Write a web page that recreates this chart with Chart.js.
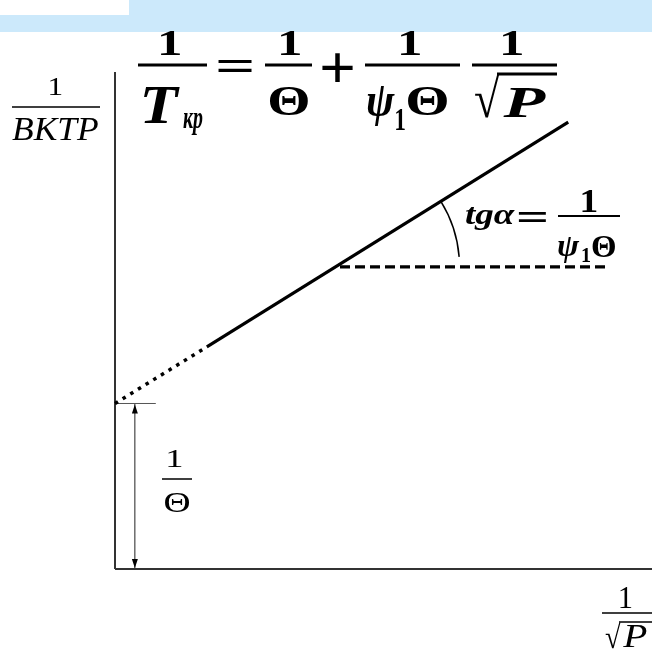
<!DOCTYPE html>
<html>
<head>
<meta charset="utf-8">
<script src="https://cdn.jsdelivr.net/npm/chart.js@4"></script>
<style>
  html,body{margin:0;padding:0;background:#fff;}
  #wrap{width:652px;height:649px;}
</style>
</head>
<body>
<div id="wrap"><canvas id="c" width="652" height="649"></canvas></div>
<script>
// axis ranges (abstract units: x = 1/sqrt(P), y = 1/T)
var xRange = [0, 10];
var yRange = [0, 10];

// the straight line 1/T = 1/Θ + (1/ψ1Θ)·(1/√P)
var lineDotted = [[0, 3.33], [1.71, 4.47]];      // extrapolated part
var lineSolid  = [[1.71, 4.47], [8.44, 8.99]];   // measured part
var dashLevel  = [[4.19, 6.08], [9.18, 6.08]];   // horizontal for angle α

// axes and the 1/Θ marker
var axisX = [[0, 0], [10, 0]];
var axisY = [[0, 0], [0, 10]];
var interceptTick  = [[0, 3.33], [0.76, 3.33]];
var interceptArrow = [[0.37, 0], [0.37, 3.33]];

var SERIF = "'Liberation Serif','Times New Roman',serif";

function pts(a){ return a.map(function(p){ return {x:p[0], y:p[1]}; }); }

// put a text so its ink box lands on (x0,y0)-(x1,y1)
function fit(ctx, s, font, x0, y0, x1, y1){
  ctx.font = font + ' ' + SERIF;
  ctx.textAlign = 'left'; ctx.textBaseline = 'alphabetic';
  var m = ctx.measureText(s);
  var w = m.actualBoundingBoxLeft + m.actualBoundingBoxRight;
  var h = m.actualBoundingBoxAscent + m.actualBoundingBoxDescent;
  var sx = (x1 - x0) / w, sy = (y1 - y0) / h;
  ctx.save();
  ctx.translate(x0 + m.actualBoundingBoxLeft * sx, y0 + m.actualBoundingBoxAscent * sy);
  ctx.scale(sx, sy);
  ctx.fillText(s, 0, 0);
  ctx.restore();
}

var texts = [
  // main formula
  ['1', 'bold 34px', 160, 32, 181, 55],
  ['T', 'italic bold 54px', 143, 87, 180, 123],
  ['кр', 'italic bold 28px', 183, 113, 203, 135],
  ['=', 'bold 48px', 218, 60, 252, 72],
  ['1', 'bold 34px', 280, 32, 301, 55],
  ['Θ', 'bold 41px', 270, 88, 308, 115],
  ['+', 'bold 44px', 322, 53, 353, 82],
  ['1', 'bold 34px', 400, 32, 421, 55],
  ['ψ', 'italic bold 41px', 367, 88, 395, 127],
  ['1', 'bold 26px', 396, 110, 405, 130],
  ['Θ', 'bold 41px', 408, 88, 447, 115],
  ['1', 'bold 34px', 502, 32, 523, 55],
  ['√', 'bold 44px', 475, 74, 500, 118],
  ['P', 'italic bold 44px', 502, 88, 547, 117],
  // y axis title
  ['1', '26px', 50, 78, 62, 95],
  ['ВКТР', 'italic 32px', 12, 118, 98, 140],
  // intercept label
  ['1', '26px', 168, 450, 182, 467],
  ['Θ', '27px', 165, 493, 190, 512],
  // slope label
  ['tgα', 'italic bold 28px', 465, 207, 515, 230],
  ['=', 'bold 30px', 518, 212, 547, 222],
  ['1', 'bold 30px', 582, 190, 597, 212],
  ['ψ', 'italic bold 30px', 558, 237, 580, 262],
  ['1', 'bold 20px', 582, 247, 590, 262],
  ['Θ', 'bold 30px', 592, 237, 615, 257],
  // x axis title
  ['1', '28px', 620, 588, 632, 608],
  ['√', '30px', 605, 622, 621, 649],
  ['P', 'italic 30px', 622, 626, 647, 647]
];

// fraction bars and radical overbars: [x0, x1, y, thickness]
var bars = [
  [138, 207, 65, 3], [265, 312, 65, 3], [365, 460, 65, 3], [472, 557, 65, 3],
  [497, 557, 74, 3],
  [12, 100, 107, 1.5],
  [162, 192, 479, 1.5],
  [558, 620, 216, 2],
  [602, 652, 613, 1.5], [619, 652, 622, 1.5]
];

var decor = {
  id: 'decor',
  beforeDraw: function(chart){
    var ctx = chart.ctx;
    ctx.save();
    ctx.fillStyle = 'rgb(204,233,251)';
    ctx.fillRect(0, 0, chart.width, 32);
    ctx.fillStyle = '#fff';
    ctx.fillRect(0, 0, 129, 15);
    ctx.restore();
  },
  afterDraw: function(chart){
    var ctx = chart.ctx, xs = chart.scales.x, ys = chart.scales.y;
    ctx.save();
    ctx.fillStyle = '#000';
    texts.forEach(function(t){ fit(ctx, t[0], t[1], t[2], t[3], t[4], t[5]); });
    bars.forEach(function(b){ ctx.fillRect(b[0], b[2] - b[3] / 2, b[1] - b[0], b[3]); });

    // arrow heads on the 1/Θ marker
    var ax = xs.getPixelForValue(interceptArrow[0][0]);
    var yb = ys.getPixelForValue(interceptArrow[0][1]);
    var yt = ys.getPixelForValue(interceptArrow[1][1]);
    ctx.beginPath();
    ctx.moveTo(ax, yt + 1); ctx.lineTo(ax - 3, yt + 10); ctx.lineTo(ax + 3, yt + 10); ctx.closePath();
    ctx.moveTo(ax, yb - 1); ctx.lineTo(ax - 3, yb - 10); ctx.lineTo(ax + 3, yb - 10); ctx.closePath();
    ctx.fill();

    // angle arc between the line and the horizontal
    var p0 = lineSolid[0], p1 = lineSolid[1];
    var k = (p1[1] - p0[1]) / (p1[0] - p0[0]);
    var xi = p0[0] + (dashLevel[0][1] - p0[1]) / k;
    var cx = xs.getPixelForValue(xi), cy = ys.getPixelForValue(dashLevel[0][1]);
    var ang = Math.atan2(ys.getPixelForValue(p1[1]) - ys.getPixelForValue(p0[1]),
                         xs.getPixelForValue(p1[0]) - xs.getPixelForValue(p0[0]));
    ctx.beginPath();
    ctx.arc(cx, cy, 124, ang, -0.08);
    ctx.lineWidth = 1.5; ctx.strokeStyle = '#000';
    ctx.stroke();
    ctx.restore();
  }
};

function ds(data, width, color, dash){
  return {data: pts(data), borderColor: color, borderWidth: width, borderDash: dash || [],
          pointRadius: 0, fill: false, tension: 0, clip: false, borderCapStyle: 'butt'};
}

new Chart(document.getElementById('c').getContext('2d'), {
  type: 'line',
  data: {
    datasets: [
      ds(lineSolid, 3.2, '#000'),
      ds(lineDotted, 3.5, '#000', [3.5, 5.5]),
      ds(dashLevel, 3.2, '#000', [10, 5]),
      ds(axisX, 2, '#333'),
      ds(axisY, 2, '#333'),
      ds(interceptTick, 1, '#555'),
      ds(interceptArrow, 1, '#222')
    ]
  },
  options: {
    responsive: false,
    animation: false,
    devicePixelRatio: 1,
    layout: {padding: {left: 115, top: 72, right: 0, bottom: 80}},
    plugins: {legend: {display: false}, tooltip: {enabled: false}},
    scales: {
      x: {type: 'linear', min: xRange[0], max: xRange[1], display: false},
      y: {type: 'linear', min: yRange[0], max: yRange[1], display: false}
    }
  },
  plugins: [decor]
});
</script>
</body>
</html>
